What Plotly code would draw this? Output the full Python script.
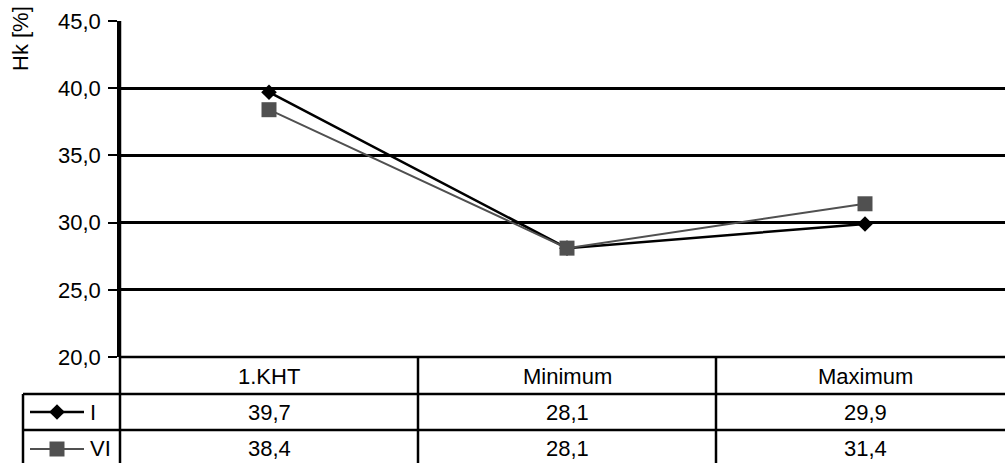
import plotly.graph_objects as go

# Chart data
categories = ["1.KHT", "Minimum", "Maximum"]
series_names = ["I", "VI"]
values_i = [39.7, 28.1, 29.9]
values_vi = [38.4, 28.1, 31.4]
y_ticks = [20, 25, 30, 35, 40, 45]

W, H = 1005, 463
# plot area in pixels
PL, PR, PT, PB = 120, 1005, 21, 357
COL_W = 298  # width of one category column in pixels
ROW_TOPS = [357, 394, 430]  # header, row I, row VI tops
LEG_LEFT = 23

FONT = dict(family="Liberation Sans, Arial, sans-serif", size=22, color="#000")
GRAY = "#505050"

def py(p):
    """pixel y -> paper y"""
    return 1 - p / H

def px(p):
    return p / W

x_idx = list(range(len(categories)))
x_right = (PR - PL) / COL_W - 0.5

fig = go.Figure()

fig.add_trace(go.Scatter(
    x=x_idx, y=values_i, mode="lines+markers", name=series_names[0],
    line=dict(color="#000", width=2.5),
    marker=dict(symbol="diamond", size=12, color="#000"),
    cliponaxis=False, showlegend=False,
))
fig.add_trace(go.Scatter(
    x=x_idx, y=values_vi, mode="lines+markers", name=series_names[1],
    line=dict(color=GRAY, width=2),
    marker=dict(symbol="square", size=15, color=GRAY),
    cliponaxis=False, showlegend=False,
))

# legend keys inside the data table (pixel-space overlay axes)
key_rows = [(412, "#000", "diamond", 12, 2.5), (449, GRAY, "square", 15, 2)]
for (cy, col, sym, sz, lw) in key_rows:
    fig.add_trace(go.Scatter(
        x=[30, 84], y=[cy, cy], mode="lines", line=dict(color=col, width=lw),
        xaxis="x2", yaxis="y2", showlegend=False, hoverinfo="skip",
    ))
    fig.add_trace(go.Scatter(
        x=[57], y=[cy], mode="markers", marker=dict(symbol=sym, size=sz, color=col),
        xaxis="x2", yaxis="y2", showlegend=False, hoverinfo="skip",
    ))

shapes = []
line_style = dict(color="#000", width=2.5)
# table horizontal rules
shapes.append(dict(type="line", xref="paper", yref="paper",
                   x0=px(PL), x1=1, y0=py(ROW_TOPS[0]), y1=py(ROW_TOPS[0]), line=line_style))
for t in ROW_TOPS[1:]:
    shapes.append(dict(type="line", xref="paper", yref="paper",
                       x0=px(LEG_LEFT), x1=1, y0=py(t), y1=py(t), line=line_style))
# table vertical rules
shapes.append(dict(type="line", xref="paper", yref="paper",
                   x0=px(PL), x1=px(PL), y0=py(PT), y1=0, line=line_style))
shapes.append(dict(type="line", xref="paper", yref="paper",
                   x0=px(LEG_LEFT), x1=px(LEG_LEFT), y0=py(ROW_TOPS[1]), y1=0, line=line_style))
for i in range(1, len(categories)):
    shapes.append(dict(type="line", xref="x", yref="paper",
                       x0=i - 0.5, x1=i - 0.5, y0=py(ROW_TOPS[0]), y1=0, line=line_style))

def fmt(v):
    return f"{v:.1f}".replace(".", ",")

annotations = []
row_centers = [376, 412, 448]
for i, c in enumerate(categories):
    annotations.append(dict(x=i, y=py(row_centers[0]), xref="x", yref="paper",
                            text=c, showarrow=False, font=FONT,
                            xanchor="center", yanchor="middle"))
for r, vals in enumerate([values_i, values_vi]):
    for i, v in enumerate(vals):
        annotations.append(dict(x=i, y=py(row_centers[r + 1]), xref="x", yref="paper",
                                text=fmt(v), showarrow=False, font=FONT,
                                xanchor="center", yanchor="middle"))
    annotations.append(dict(x=px(88), y=py(row_centers[r + 1]), xref="paper", yref="paper",
                            text=series_names[r], showarrow=False, font=FONT,
                            xanchor="left", yanchor="middle"))
# axis title
annotations.append(dict(x=px(21), y=py(39), xref="paper", yref="paper", text="Hk [%]",
                        textangle=-90, showarrow=False, font=FONT,
                        xanchor="center", yanchor="middle"))

fig.update_layout(
    width=W, height=H,
    margin=dict(l=0, r=0, t=0, b=0, autoexpand=False),
    paper_bgcolor="white", plot_bgcolor="rgba(0,0,0,0)",
    separators=", ",
    font=FONT,
    xaxis=dict(domain=[px(PL), 1], range=[-0.5, x_right], showgrid=False,
               showticklabels=False, ticks="", zeroline=False, showline=False,
               fixedrange=True, automargin=False),
    yaxis=dict(domain=[py(PB), py(PT)], range=[20, 45], tickvals=y_ticks,
               tickformat=".1f", ticks="outside", ticklen=9, tickwidth=2, tickcolor="#000",
               showgrid=True, gridcolor="#000", gridwidth=2.5, zeroline=False,
               showline=True, linecolor="#000", linewidth=2.5, tickfont=FONT,
               ticklabelstandoff=3, automargin=False, fixedrange=True),
    xaxis2=dict(domain=[0, 1], range=[0, W], visible=False, fixedrange=True,
                automargin=False),
    yaxis2=dict(domain=[0, 1], range=[H, 0], visible=False, fixedrange=True,
                automargin=False),
    shapes=shapes,
    annotations=annotations,
)

fig.write_html("out.html")
